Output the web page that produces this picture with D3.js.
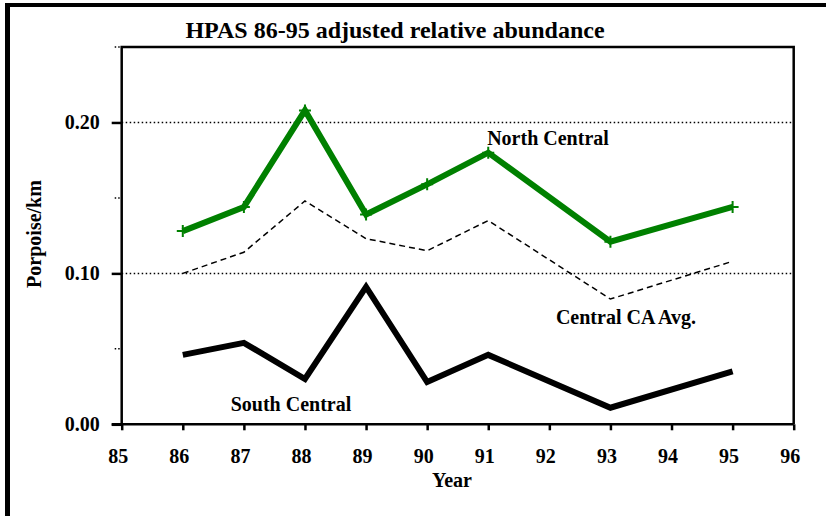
<!DOCTYPE html>
<html>
<head>
<meta charset="utf-8">
<script src="https://cdn.jsdelivr.net/npm/d3@7"></script>
<style>
  html, body { margin: 0; padding: 0; background: #fff; }
  svg text { font-family: "Liberation Serif", "Times New Roman", serif; font-weight: bold; fill: #000; }
</style>
</head>
<body>
<svg id="chart" width="826" height="516"></svg>
<script>
// data
const years = [86, 87, 88, 89, 90, 91, 93, 95];
const northCentral = [0.128, 0.144, 0.208, 0.139, 0.159, 0.180, 0.121, 0.144];
const centralAvg = [0.100, 0.114, 0.148, 0.123, 0.115, 0.135, 0.083, 0.108];
const southCentral = [0.046, 0.054, 0.030, 0.091, 0.028, 0.046, 0.011, 0.035];
const yMajorTicks = [0, 0.10, 0.20];
const yMinorTicks = [0.05, 0.15, 0.25];
const xTicks = d3.range(85, 97);

const svg = d3.select("#chart");

const x = d3.scaleLinear().domain([85, 96]).range([121.7, 793.7]);
const y = d3.scaleLinear().domain([0, 0.25]).range([424.3, 47]);

// outer frame (left + top only)
svg.append("line").attr("x1", 7.5).attr("x2", 7.5).attr("y1", 3).attr("y2", 516)
    .attr("stroke", "#000").attr("stroke-width", 5);
svg.append("line").attr("x1", 5).attr("x2", 826).attr("y1", 5).attr("y2", 5)
    .attr("stroke", "#000").attr("stroke-width", 4);

// title
svg.append("text")
    .attr("x", 395).attr("y", 38)
    .attr("text-anchor", "middle")
    .attr("font-size", 24)
    .text("HPAS 86-95 adjusted relative abundance");

// dotted gridlines
svg.selectAll(".grid")
    .data([0.10, 0.20])
    .enter().append("line")
    .attr("x1", x(85)).attr("x2", x(96))
    .attr("y1", d => y(d)).attr("y2", d => y(d))
    .attr("stroke", "#000").attr("stroke-width", 1.5)
    .attr("stroke-dasharray", "1.5,2.5");

// minor y ticks, dotted
svg.selectAll(".minor")
    .data(yMinorTicks)
    .enter().append("line")
    .attr("x1", x(85) - 7).attr("x2", x(85))
    .attr("y1", d => y(d)).attr("y2", d => y(d))
    .attr("stroke", "#000").attr("stroke-width", 1.5)
    .attr("stroke-dasharray", "1.5,2");

// plot box
svg.append("path")
    .attr("d", `M${x(85)},${y(0)} V${y(0.25)} H${x(96)} V${y(0)}`)
    .attr("fill", "none").attr("stroke", "#000").attr("stroke-width", 2.5);

// axes
const xAxis = svg.append("g")
    .attr("transform", `translate(0,${y(0)})`)
    .call(d3.axisBottom(x).tickValues(xTicks).tickFormat(d3.format("d")).tickSize(6).tickPadding(19));
xAxis.select(".domain").remove();
xAxis.selectAll(".tick line").attr("stroke-width", 2.5);
xAxis.selectAll(".tick text").attr("font-size", 20).attr("dx", -4)
    .style("font-family", "Liberation Serif").style("font-weight", "bold");
svg.append("line").attr("x1", x(85) - 10).attr("x2", x(96))
    .attr("y1", y(0)).attr("y2", y(0)).attr("stroke", "#000").attr("stroke-width", 2.5);

const yAxis = svg.append("g")
    .attr("transform", `translate(${x(85)},0)`)
    .call(d3.axisLeft(y).tickValues(yMajorTicks).tickFormat(d3.format(".2f")).tickSize(10).tickPadding(12));
yAxis.select(".domain").remove();
yAxis.selectAll(".tick line").attr("stroke-width", 2.5);
yAxis.selectAll(".tick text").attr("font-size", 20)
    .style("font-family", "Liberation Serif").style("font-weight", "bold");

// axis titles
svg.append("text")
    .attr("x", 452).attr("y", 487)
    .attr("text-anchor", "middle")
    .attr("font-size", 20)
    .text("Year");
svg.append("text")
    .attr("transform", "translate(41,234) rotate(-90)")
    .attr("text-anchor", "middle")
    .attr("font-size", 20)
    .text("Porpoise/km");

// lines
const line = d3.line().x(d => x(d[0])).y(d => y(d[1]));
const zip = vals => years.map((yr, i) => [yr, vals[i]]);

svg.append("path")
    .attr("d", line(zip(centralAvg)))
    .attr("fill", "none").attr("stroke", "#000").attr("stroke-width", 1.5)
    .attr("stroke-dasharray", "6,4");

svg.append("path")
    .attr("d", line(zip(southCentral)))
    .attr("fill", "none").attr("stroke", "#000").attr("stroke-width", 6)
    .attr("stroke-linejoin", "miter");

svg.append("path")
    .attr("d", line(zip(northCentral)))
    .attr("fill", "none").attr("stroke", "#008000").attr("stroke-width", 6)
    .attr("stroke-linejoin", "miter");

// plus markers on North Central
svg.selectAll(".mark")
    .data(zip(northCentral))
    .enter().append("path")
    .attr("d", d => `M${x(d[0]) - 6},${y(d[1])} H${x(d[0]) + 6} M${x(d[0])},${y(d[1]) - 6} V${y(d[1]) + 6}`)
    .attr("stroke", "#008000").attr("stroke-width", 2);

// series labels
svg.append("text").attr("x", 548).attr("y", 145).attr("text-anchor", "middle")
    .attr("font-size", 20).text("North Central");
svg.append("text").attr("x", 626).attr("y", 324).attr("text-anchor", "middle")
    .attr("font-size", 20).text("Central CA Avg.");
svg.append("text").attr("x", 291).attr("y", 411).attr("text-anchor", "middle")
    .attr("font-size", 20).text("South Central");
</script>
</body>
</html>
